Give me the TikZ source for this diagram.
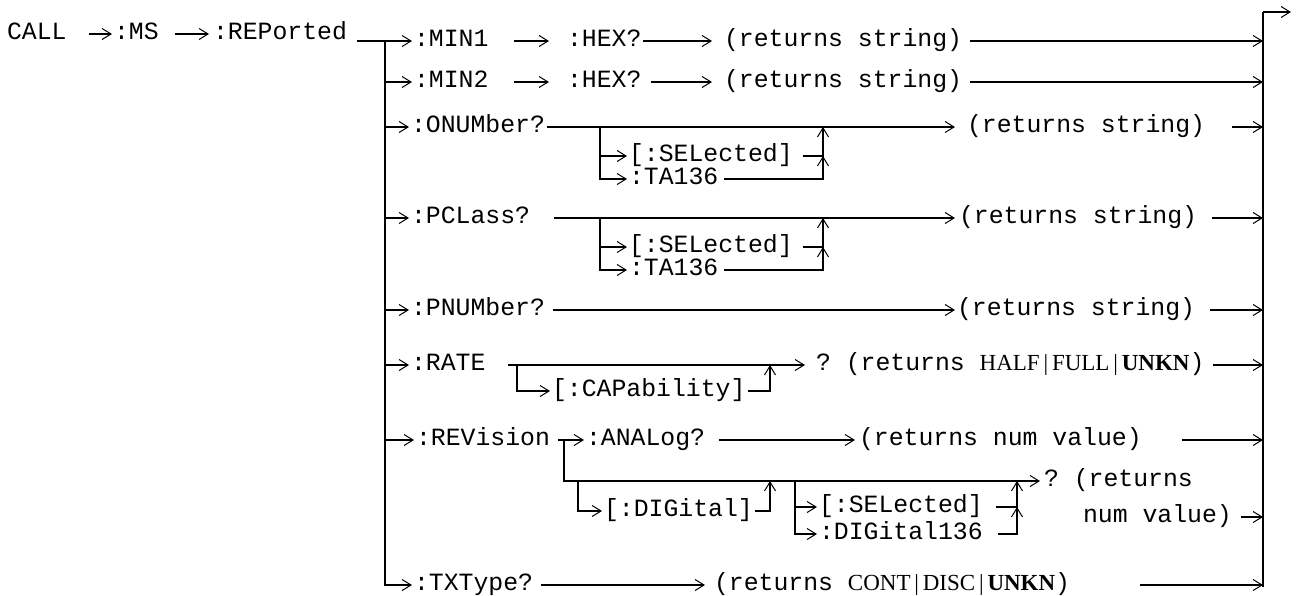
\documentclass[tikz,border=0pt]{standalone}
\usepackage{fontspec}
\setmainfont{Liberation Serif}
\setmonofont{Liberation Mono}
\usepackage{tikz}
\usetikzlibrary{arrows.meta}

\newcommand{\alts}[3]{{\rmfamily\fontsize{23}{28}\selectfont #1\,|\,#2\,|\,\textbf{#3}}}

\begin{document}
\begin{tikzpicture}[
  x=1pt, y=-1pt,
  font=\ttfamily\fontsize{24.8}{28}\selectfont,
  kw/.style={anchor=west, inner sep=0pt, outer sep=2pt, text height=11pt, text depth=1pt},
  ln/.style={line width=1.6pt},
  arr/.style={ln, -{Straight Barb[length=9pt,width=11pt,line width=1pt]}}
]
\useasboundingbox (0,0) rectangle (1298,595);

\node[kw] (call) at (5,34) {CALL};
\node[kw] (ms) at (112,34) {:MS};
\node[kw] (rep) at (211,34) {:REPorted};

\node[kw] (min1) at (412,41) {:MIN1};
\node[kw] (hex1) at (565,41) {:HEX?};
\node[kw] (ret1) at (722,41) {(returns string)};

\node[kw] (min2) at (412,82) {:MIN2};
\node[kw] (hex2) at (565,82) {:HEX?};
\node[kw] (ret2) at (722,82) {(returns string)};

\node[kw] (onum) at (409,127) {:ONUMber?};
\node[kw] (sel3) at (627,156) {[:SELected]};
\node[kw] (ta3) at (627,179) {:TA136};
\node[kw] (ret3) at (965,127) {(returns string)};

\node[kw] (pcl) at (409,218) {:PCLass?};
\node[kw] (sel4) at (627,247) {[:SELected]};
\node[kw] (ta4) at (627,270) {:TA136};
\node[kw] (ret4) at (957,218) {(returns string)};

\node[kw] (pnum) at (409,310) {:PNUMber?};
\node[kw] (ret5) at (955,310) {(returns string)};

\node[kw] (rate) at (409,365) {:RATE};
\node[kw] (cap) at (550,391) {[:CAPability]};
\node[kw] (ret6) at (814,365) {? (returns \alts{HALF}{FULL}{UNKN})};

\node[kw] (rev) at (414,440) {:REVision};
\node[kw] (anal) at (584,440) {:ANALog?};
\node[kw] (ret7) at (857,440) {(returns num value)};
\node[kw] (dig) at (602,511) {[:DIGital]};
\node[kw] (sel7) at (817,507) {[:SELected]};
\node[kw] (d136) at (817,534) {:DIGital136};
\node[kw] (q7) at (1042,481) {? (returns};
\node[kw] (nv7) at (1081,517) {num value)};

\node[kw] (txt) at (412,585) {:TXType?};
\node[kw] (ret8) at (712,585) {(returns \alts{CONT}{DISC}{UNKN})};

\coordinate (t1) at (385,41);
\coordinate (e0) at (1263,12);
\coordinate (e9) at (1263,587);
\coordinate (out) at (1291,12);
\coordinate (j3) at (600,127);
\coordinate (u3) at (823,127);
\coordinate (j4) at (600,218);
\coordinate (u4) at (823,218);
\coordinate (j6) at (517,365);
\coordinate (u6) at (770,365);
\coordinate (j7) at (564,440);
\coordinate (j7a) at (578,481);
\coordinate (u7a) at (770,481);
\coordinate (j7b) at (795,481);
\coordinate (u7b) at (1017,481);

\draw[arr, shorten <=20pt] (call) -- (ms);
\draw[arr, shorten <=14pt, shorten >=2pt] (ms) -- (rep);
\draw[arr, shorten <=8pt] (rep.east |- t1) -- (min1);
\draw[arr] (t1) |- (txt);
\draw[arr] (t1 |- min2) -- (min2);
\draw[arr] (t1 |- onum) -- (onum);
\draw[arr] (t1 |- pcl) -- (pcl);
\draw[arr] (t1 |- pnum) -- (pnum);
\draw[arr] (t1 |- rate) -- (rate);
\draw[arr] (t1 |- rev) -- (rev);
\draw[ln] (e9) -- (e0);
\draw[arr] (e0) -- (out);

\draw[arr, shorten <=24pt, shorten >=16pt] (min1) -- (hex1);
\draw[arr, shorten >=10pt] (hex1) -- (ret1);
\draw[arr, shorten <=6pt] (ret1) -- (ret1 -| e0);

\draw[arr, shorten <=24pt, shorten >=16pt] (min2) -- (hex2);
\draw[arr, shorten <=8pt, shorten >=10pt] (hex2) -- (ret2);
\draw[arr, shorten <=6pt] (ret2) -- (ret2 -| e0);

\draw[arr, shorten >=10pt] (onum) -- (ret3);
\draw[arr] (j3) |- (sel3);
\draw[arr] (j3) |- (ta3);
\draw[arr, shorten <=8pt] (sel3) -| (u3);
\draw[arr, shorten <=4pt] (ta3) -| (u3 |- sel3);
\draw[arr, shorten <=25pt] (ret3) -- (ret3 -| e0);

\draw[arr, shorten <=22pt, shorten >=2pt] (pcl) -- (ret4);
\draw[arr] (j4) |- (sel4);
\draw[arr] (j4) |- (ta4);
\draw[arr, shorten <=8pt] (sel4) -| (u4);
\draw[arr, shorten <=4pt] (ta4) -| (u4 |- sel4);
\draw[arr, shorten <=13pt] (ret4) -- (ret4 -| e0);

\draw[arr, shorten <=6pt] (pnum) -- (ret5);
\draw[arr, shorten <=13pt] (ret5) -- (ret5 -| e0);

\draw[arr, shorten <=21pt, shorten >=9pt] (rate) -- (ret6);
\draw[arr] (j6) |- (cap);
\draw[arr, shorten <=1pt] (cap) -| (u6);
\draw[arr, shorten <=7pt] (ret6) -- (ret6 -| e0);

\draw[arr, shorten <=6pt] (rev) -- (anal);
\draw[arr, shorten <=12pt, shorten >=2pt] (anal) -- (ret7);
\draw[arr, shorten <=38pt] (ret7) -- (ret7 -| e0);
\draw[arr, shorten >=2pt] (j7) |- (q7);
\draw[arr] (j7a) |- (dig);
\draw[arr] (dig) -| (u7a);
\draw[arr] (j7b) |- (sel7);
\draw[arr] (j7b) |- (d136);
\draw[arr, shorten <=11pt] (sel7) -| (u7b);
\draw[arr, shorten <=13pt] (d136) -| (u7b |- sel7);
\draw[arr, shorten <=7pt] (nv7) -- (nv7 -| e0);

\draw[arr, shorten <=6pt, shorten >=7pt] (txt) -- (ret8);
\draw[arr, shorten <=68pt] (ret8) -- (ret8 -| e0);
\end{tikzpicture}
\end{document}
